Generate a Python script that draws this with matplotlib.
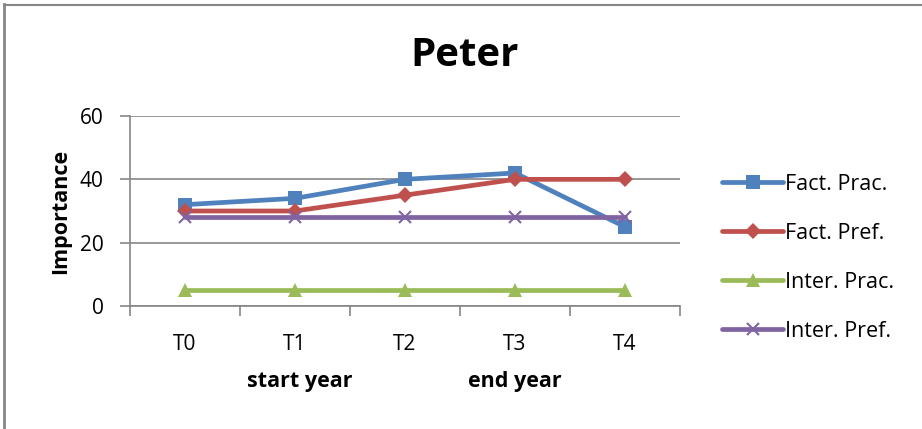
import matplotlib
matplotlib.use("Agg")
import matplotlib.pyplot as plt
from matplotlib.lines import Line2D

plt.rcParams['font.family'] = ['Open Sans', 'DejaVu Sans']

categories = ["T0", "T1", "T2", "T3", "T4"]
fact_prac = [32, 34, 40, 42, 25]
fact_pref = [30, 30, 35, 40, 40]
inter_prac = [5, 5, 5, 5, 5]
inter_pref = [28, 28, 28, 28, 28]
y_ticks = [0, 20, 40, 60]

series = [
    ("Fact. Prac.", fact_prac, "#4F81BD", "s", 10),
    ("Fact. Pref.", fact_pref, "#C0504D", "D", 8),
    ("Inter. Prac.", inter_prac, "#9BBB59", "^", 10),
    ("Inter. Pref.", inter_pref, "#8064A2", "x", 9),
]

fig = plt.figure(figsize=(9.22, 4.29), dpi=100)
ax = fig.add_axes([130/922, 1-306/429, 550/922, 190/429])

x = list(range(len(categories)))
for name, vals, color, mk, ms in series:
    kw = dict(markeredgewidth=1.5) if mk == "x" else dict(markeredgewidth=0)
    ax.plot(x, vals, color=color, lw=3.4, marker=mk, markersize=ms,
            markerfacecolor=color, markeredgecolor=color, label=name,
            solid_capstyle="round", **kw)

ax.set_xlim(-0.5, len(categories) - 0.5)
ax.set_ylim(0, 60)
ax.set_yticks(y_ticks)
ax.set_xticks([i - 0.5 for i in range(len(categories) + 1)])
ax.set_xticklabels([])
ax.set_xticks(x, minor=True)
ax.set_xticklabels(categories, minor=True)
ax.tick_params(axis="x", which="minor", length=0, pad=20, labelsize=15)
ax.tick_params(axis="x", which="major", length=7, color="#868686", width=1.2)
ax.tick_params(axis="y", length=7, color="#868686", width=1.2, labelsize=15, pad=12)
ax.grid(axis="y", color="#868686", lw=1.2)
ax.set_axisbelow(True)
for s in ["top", "right"]:
    ax.spines[s].set_visible(False)
ax.spines["left"].set_color("#868686")
ax.spines["left"].set_linewidth(1.2)
ax.spines["bottom"].set_color("#868686")
ax.spines["bottom"].set_linewidth(1.2)

ax.set_ylabel("Importance", fontsize=15.5, fontweight="bold", labelpad=6)

fig.text(465/922, 1-56/429, "Peter", ha="center", va="center",
         fontsize=29, fontweight="bold")
fig.text(300/922, 1-382/429, "start year", ha="center", va="center",
         fontsize=15.5, fontweight="bold")
fig.text(515/922, 1-382/429, "end year", ha="center", va="center",
         fontsize=15.5, fontweight="bold")

leg = fig.legend(loc="center left", bbox_to_anchor=(703/922, 1-258/429),
                 frameon=False, fontsize=15.5, handlelength=2.8,
                 handletextpad=0.1, labelspacing=1.3)

# chart frame
fig.add_artist(Line2D([4/922, 4/922], [0, 1-4/429], color="#868686", lw=2,
                      transform=fig.transFigure))
fig.add_artist(Line2D([4/922, 1], [1-4.5/429, 1-4.5/429], color="#868686", lw=1.5,
                      transform=fig.transFigure))

fig.savefig("out.png", dpi=100)
